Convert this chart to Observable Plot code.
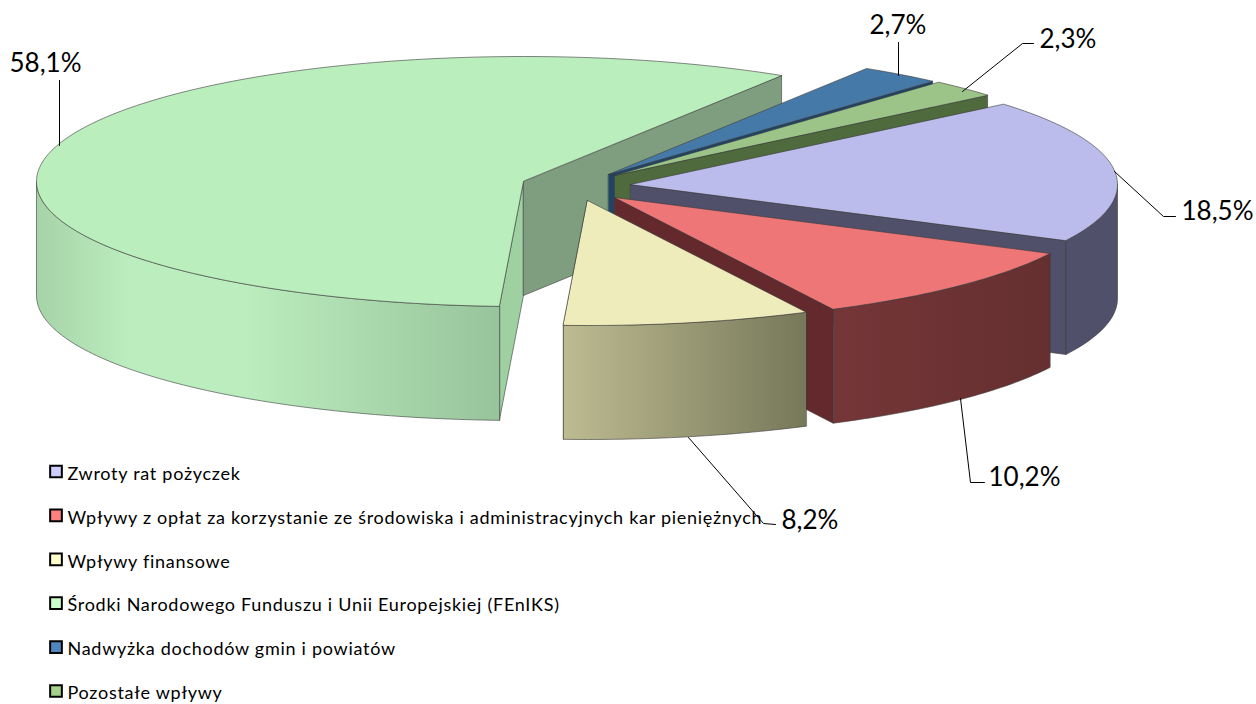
<!DOCTYPE html>
<html>
<head>
<meta charset="utf-8">
<script src="https://cdn.jsdelivr.net/npm/d3@7"></script>
<script src="https://cdn.jsdelivr.net/npm/@observablehq/plot@0.6"></script>
<style>
  html, body { margin: 0; padding: 0; background: #fff; }
  svg { display: block; }
</style>
</head>
<body>
<div id="chart"></div>
<script>
// ---- data ----
const categories = [
  "Zwroty rat pożyczek",
  "Wpływy z opłat za korzystanie ze środowiska i administracyjnych kar pieniężnych",
  "Wpływy finansowe",
  "Środki Narodowego Funduszu i Unii Europejskiej (FEnIKS)",
  "Nadwyżka dochodów gmin i powiatów",
  "Pozostałe wpływy"
];
const shares = [18.5, 10.2, 8.2, 58.1, 2.7, 2.3];
const valueLabels = ["18,5%", "10,2%", "8,2%", "58,1%", "2,7%", "2,3%"];

// ---- styles ----
const topColors = ["#bbbbec", "#ee7676", "#eeecbb", "#bbeebd", "#4579a8", "#9cc488"];
const sideColors = ["#50506a", "#63292c", "#767859", "#7f9e80", "#1f4468", "#4f6a3c"];
const legendColors = ["#ccccff", "#ff8080", "#ffffcc", "#ccffcc", "#4f86c0", "#a6d18a"];
const wallGradients = [
  [["0%", "#50506a"], ["100%", "#50506a"]],
  [["0%", "#753638"], ["100%", "#652f30"]],
  [["0%", "#bdbb91"], ["100%", "#767859"]],
  [["0%", "#a6d3a8"], ["20%", "#bbedbe"], ["45%", "#bbedbe"], ["100%", "#98c49b"]]
];

// ---- layout of the exploded 3D pie ----
const W = 1256, H = 704;
const startAngle = 40, rx = 487, ry = 125, depth = 114;
const apexX = [630, 614, 587, 523, 608, 614];
const apexY = [184, 197, 200, 181, 174, 175];
const drawOrder = [3, 4, 5, 0, 1, 2];
const leaders = [
  [[1114, 171], [1163, 216], [1175, 216]],
  [[960, 398], [970, 482], [984, 482]],
  [[688, 437], [763, 523], [775, 524]],
  [[59, 145], [59, 80]],
  [[898, 75], [898, 42]],
  [[962, 91], [1022, 43], [1033, 43]]
];
const labelX = [1181, 988, 781, 9, 869, 1039];
const labelY = [211, 477, 520, 63, 25, 39];
const legendX = 55.5, legendTextX = 67, legendY0 = 471, legendStep = 43.9;

// ---- geometry from the values ----
let cum = 0;
const slices = shares.map((s, i) => {
  const a0 = startAngle - (cum * 360) / 100;
  cum += s;
  return {i, a0, a1: startAngle - (cum * 360) / 100, cx: apexX[i], cy: apexY[i]};
});
const rim = (sl, deg, dz = 0) => {
  const t = (deg * Math.PI) / 180;
  return {x: sl.cx + rx * Math.cos(t), y: sl.cy - ry * Math.sin(t) + dz};
};
const arc = (sl, a, b, dz = 0) => {
  const n = Math.max(2, Math.ceil(Math.abs(a - b)));
  return d3.range(n + 1).map((k) => rim(sl, a + ((b - a) * k) / n, dz));
};
const sideWall = (sl, deg) => [
  {x: sl.cx, y: sl.cy},
  rim(sl, deg),
  rim(sl, deg, depth),
  {x: sl.cx, y: sl.cy + depth}
];
const edge = "#3c3c3c";
const poly = (pts, fill, opts = {}) =>
  Plot.line(pts, {x: "x", y: "y", curve: "linear-closed", fill, stroke: edge, strokeWidth: 1, strokeOpacity: 0.6, ...opts});

const marks = [];
// gradient defs for the outer walls
marks.push(() => {
  const defs = d3.create("svg:defs");
  wallGradients.forEach((stops, i) => {
    const g = defs.append("linearGradient").attr("id", `wall${i}`).attr("x1", "0").attr("x2", "1").attr("y1", "0").attr("y2", "0");
    stops.forEach(([o, c]) => g.append("stop").attr("offset", o).attr("stop-color", c));
  });
  return defs.node();
});

for (const i of drawOrder) {
  const sl = slices[i];
  // cut wall at the clockwise end
  if (i === 3) {
    marks.push(poly(sideWall(sl, sl.a0), "#9ed0a2"));
  }
  marks.push(poly(sideWall(sl, sl.a1), sideColors[i]));
  // outer wall: only the part on the near half of the rim
  if (i < 4) {
    const hi = Math.min(sl.a0, 0);
    const lo = Math.max(sl.a1, -180);
    if (hi > lo) {
      const wall = [...arc(sl, hi, lo), ...arc(sl, lo, hi, depth)];
      marks.push(poly(wall, `url(#wall${i})`));
    }
  }
  // top face
  marks.push(poly([{x: sl.cx, y: sl.cy}, ...arc(sl, sl.a0, sl.a1)], topColors[i]));
}

// leader lines
leaders.forEach((pts) => {
  marks.push(Plot.line(pts.map(([x, y]) => ({x, y})), {x: "x", y: "y", stroke: "#000", strokeWidth: 1}));
});

// value labels
marks.push(Plot.text(valueLabels, {
  x: (d, i) => labelX[i],
  y: (d, i) => labelY[i],
  text: (d) => d,
  textAnchor: "start",
  fontFamily: "Lato",
  fontSize: 26,
  fill: "#000"
}));

// legend
marks.push(Plot.dot(categories, {
  x: () => legendX,
  y: (d, i) => legendY0 + i * legendStep,
  symbol: "square",
  r: 6.6,
  fill: (d, i) => legendColors[i],
  stroke: "#000",
  strokeWidth: 2
}));
marks.push(Plot.text(categories, {
  x: () => legendTextX,
  y: (d, i) => legendY0 + 2.5 + i * legendStep,
  text: (d) => d,
  textAnchor: "start",
  fontFamily: "Lato",
  fontSize: 18,
  fill: "#000"
}));

const chart = Plot.plot({
  width: W,
  height: H,
  margin: 0,
  x: {axis: null, domain: [0, W], range: [0, W]},
  y: {axis: null, domain: [0, H], range: [0, H]},
  color: {type: "identity"},
  style: {background: "#fff"},
  marks
});
d3.select(chart).selectAll("text")
  .filter(function () { return categories.includes(this.textContent); })
  .style("letter-spacing", "0.72px");
document.getElementById("chart").append(chart);
</script>
</body>
</html>
